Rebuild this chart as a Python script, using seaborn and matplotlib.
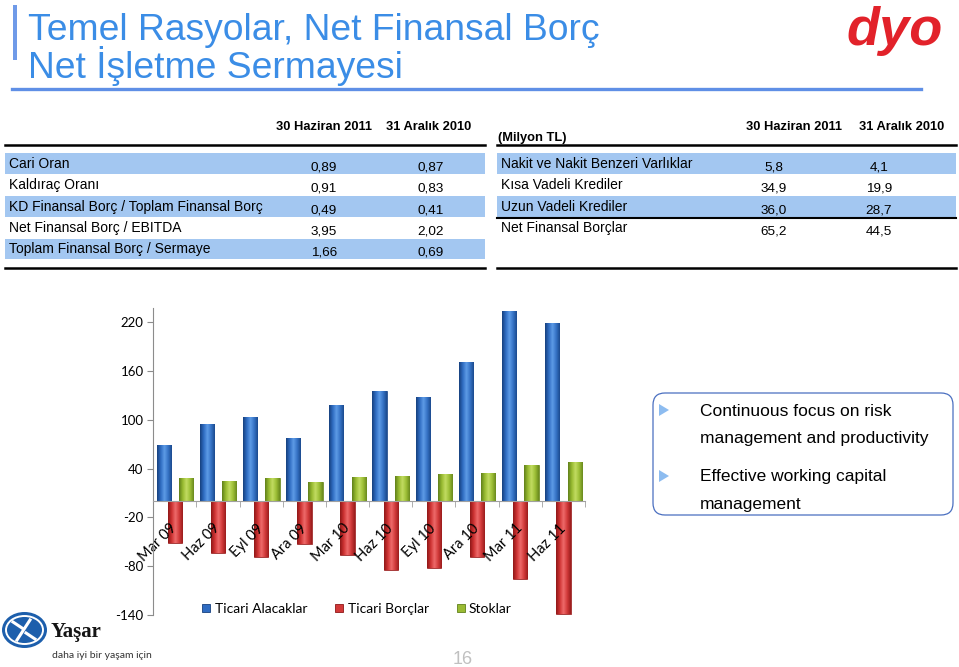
import numpy as np
import pandas as pd
import seaborn as sns
import matplotlib.pyplot as plt
from matplotlib.patches import Rectangle, FancyBboxPatch, Ellipse, Polygon
from matplotlib.lines import Line2D
from matplotlib.colors import LinearSegmentedColormap
from matplotlib.transforms import IdentityTransform

# chart data
periods = ['Mar 09', 'Haz 09', 'Eyl 09', 'Ara 09', 'Mar 10',
           'Haz 10', 'Eyl 10', 'Ara 10', 'Mar 11', 'Haz 11']
ticari_alacaklar = [69, 95, 103, 78, 118, 135, 128, 171, 233, 218]
ticari_borclar = [-51, -63, -69, -53, -66, -84, -82, -69, -96, -138]
stoklar = [28, 25, 28, 23, 30, 31, 33, 35, 44, 48]
series_names = ['Ticari Alacaklar', 'Ticari Borçlar', 'Stoklar']
yticks = [-140, -80, -20, 40, 100, 160, 220]

# tables
col_heads = ['30 Haziran 2011', '31 Aralık 2010']
ratio_labels = ['Cari Oran', 'Kaldıraç Oranı', 'KD Finansal Borç / Toplam Finansal Borç',
                'Net Finansal Borç / EBITDA', 'Toplam Finansal Borç / Sermaye']
ratio_jun11 = ['0,89', '0,91', '0,49', '3,95', '1,66']
ratio_dec10 = ['0,87', '0,83', '0,41', '2,02', '0,69']
debt_labels = ['Nakit ve Nakit Benzeri Varlıklar', 'Kısa Vadeli Krediler',
               'Uzun Vadeli Krediler', 'Net Finansal Borçlar']
debt_jun11 = ['5,8', '34,9', '36,0', '65,2']
debt_dec10 = ['4,1', '19,9', '28,7', '44,5']
bullets = ['Continuous focus on risk\nmanagement and productivity',
           'Effective working capital\nmanagement']

base_colors = ['#2f6cc2', '#d23838', '#9abb33']
shades = {
    'Ticari Alacaklar': ['#17407e', '#2f6cc2', '#5e9ce6', '#3673c6', '#1b4a8e'],
    'Ticari Borçlar': ['#8f1717', '#cf3333', '#ee6b6b', '#d23a3a', '#9a1c1c'],
    'Stoklar': ['#60801a', '#98ba30', '#c2dc62', '#9dbf36', '#6a8a1e'],
}
title_blue = '#3b8de6'
band = '#a3c7f1'

plt.rcParams['font.family'] = ['Liberation Sans', 'DejaVu Sans']
plt.rcParams['axes.unicode_minus'] = False

fig = plt.figure(figsize=(9.59, 6.67), dpi=100)
W, H = 959, 667
fx = lambda px: px / W
fy = lambda py: 1 - py / H
PIX = IdentityTransform()

# ---- title ----
fig.add_artist(Rectangle((13, H - 60), 4, 55, transform=PIX, color='#6f9ae8', lw=0))
fig.text(fx(28), fy(39.5), 'Temel Rasyolar, Net Finansal Borç', fontsize=26.8,
         color=title_blue, va='baseline')
fig.text(fx(28), fy(77.5), 'Net İşletme Sermayesi', fontsize=26.8,
         color=title_blue, va='baseline')
fig.add_artist(Line2D([fx(12), fx(921)], [fy(88.5), fy(88.5)], color='#5f8fe6', lw=2.4))
fig.text(fx(846), fy(45), 'dyo', fontsize=39, fontweight='bold', fontstyle='italic',
         color='#e2222a', va='baseline')

# ---- tables ----
row_top, row_h = 153.3, 21.4


def table(x0, x1, labels, v1, v2, cx1, cx2, shaded, head_x1, head_x2):
    fig.text(fx(head_x1), fy(127), col_heads[0], fontsize=9.3, fontweight='bold',
             ha='center', va='center')
    fig.text(fx(head_x2), fy(127), col_heads[1], fontsize=9.3, fontweight='bold',
             ha='center', va='center')
    fig.add_artist(Line2D([fx(x0), fx(x1)], [fy(145), fy(145)], color='black', lw=1.8))
    fig.add_artist(Line2D([fx(x0), fx(x1)], [fy(267.5), fy(267.5)], color='black', lw=1.8))
    for i, (lab, a, b) in enumerate(zip(labels, v1, v2)):
        top = row_top + i * row_h
        if i in shaded:
            fig.add_artist(Rectangle((x0, H - top - row_h + 1), x1 - x0, row_h - 1,
                                     transform=PIX, color=band, lw=0, zorder=0))
        fig.text(fx(x0 + 4), fy(top + 10.5), lab, fontsize=10, va='center')
        fig.text(fx(cx1), fy(top + 14), a, fontsize=9.7, ha='center', va='center')
        fig.text(fx(cx2), fy(top + 14), b, fontsize=9.7, ha='center', va='center')


table(5, 485, ratio_labels, ratio_jun11, ratio_dec10, 324, 431, [0, 2, 4], 323.5, 429)
table(497, 956, debt_labels, debt_jun11, debt_dec10, 774, 879, [0, 2], 793.7, 901.5)
fig.text(fx(498), fy(137.5), '(Milyon TL)', fontsize=9.3, fontweight='bold', va='center')
fig.add_artist(Line2D([fx(497), fx(956)], [fy(217.7), fy(217.7)], color='black', lw=1.5))

# ---- bar chart ----
df = pd.DataFrame({
    'period': periods * 3,
    'series': np.repeat(series_names, len(periods)),
    'value': ticari_alacaklar + ticari_borclar + stoklar,
})
ax = fig.add_axes([fx(153.3), 1 - 615.3 / H, (585 - 153.3) / W, (615.3 - 308) / H])
sns.barplot(data=df, x='period', y='value', hue='series', order=periods,
            hue_order=series_names, palette=base_colors, saturation=1,
            width=0.78, errorbar=None, legend=False, ax=ax)

bar_w = 0.33
grad = np.linspace(0, 1, 64).reshape(1, -1)
for cont, name in zip(ax.containers, series_names):
    cmap = LinearSegmentedColormap.from_list(name, shades[name])
    for bar in cont:
        x0 = bar.get_x() + bar.get_width() / 2 - bar_w / 2
        bar.set_x(x0)
        bar.set_width(bar_w)
        bar.set_edgecolor(shades[name][0])
        bar.set_linewidth(0.5)
        y0, h = bar.get_y(), bar.get_height()
        img = ax.imshow(grad, cmap=cmap, extent=[x0, x0 + bar_w, y0, y0 + h],
                        aspect='auto', zorder=1.1, interpolation='bilinear')
        img.set_clip_path(bar)

ax.set_xlim(-0.5, 9.5)
ax.set_ylim(-140, 237)
ax.set_xlabel('')
ax.set_ylabel('')
ax.set_facecolor('none')
for s in ['top', 'right']:
    ax.spines[s].set_visible(False)
ax.spines['bottom'].set_position(('data', 0))
ax.spines['left'].set_color('#8c8c8c')
ax.spines['bottom'].set_color('#a0a0a0')
ax.set_yticks(yticks)
ax.tick_params(axis='y', length=4, color='#8c8c8c', labelsize=9.5, pad=3)
ax.set_xticks(range(len(periods)))
ax.set_xticklabels(periods, rotation=45, ha='right', va='center', rotation_mode='anchor')
ax.tick_params(axis='x', which='major', length=0, pad=18, labelsize=10.5)
ax.set_xticks(np.arange(-0.5, len(periods), 1), minor=True)
ax.tick_params(axis='x', which='minor', length=4, color='#a0a0a0')
for lab in ax.get_xticklabels() + ax.get_yticklabels():
    lab.set_family('Lato')

handles = [Line2D([], [], marker='s', ls='', markersize=6, markerfacecolor=c,
                  markeredgecolor=shades[n][0], markeredgewidth=0.6)
           for c, n in zip(base_colors, series_names)]
fig.legend(handles, series_names, loc='center', bbox_to_anchor=(fx(357), fy(609)),
           ncol=3, frameon=False, prop={'family': 'Lato', 'size': 10},
           handletextpad=0.3, columnspacing=2.0, handlelength=0.6)

# ---- bullet box ----
fig.add_artist(FancyBboxPatch((653, H - 515), 300, 122, transform=PIX,
                              boxstyle='round,pad=0,rounding_size=12',
                              fc='white', ec='#4a6fc0', lw=0.9))
for ty, txt in zip([410, 476], bullets):
    fig.add_artist(Polygon([(659, H - ty - 6), (659, H - ty + 6), (669, H - ty)],
                           closed=True, transform=PIX, color='#8dbcf0', lw=0))
    fig.text(fx(700), fy(ty - 6.5), txt, fontsize=12.5, va='top', linespacing=2.0)

# ---- footer ----
fig.add_artist(Ellipse((24.5, H - 630), 45, 36, transform=PIX, fc='#1d5fac', ec='none'))
fig.add_artist(Ellipse((24.5, H - 630), 37, 28, transform=PIX, fc='none', ec='white', lw=1.4))
fig.add_artist(Line2D([17, 30], [H - 640, H - 620], transform=PIX, color='white', lw=2.2))
fig.add_artist(Line2D([13, 22], [H - 622, H - 628], transform=PIX, color='white', lw=2.2))
fig.add_artist(Line2D([26, 35], [H - 633, H - 639], transform=PIX, color='white', lw=2.2))
fig.text(fx(51), fy(637), 'Yaşar', fontsize=15, fontweight='bold',
         family=['Liberation Serif', 'DejaVu Serif'], color='#151515', va='baseline')
fig.text(fx(52), fy(655), 'daha iyi bir yaşam için', fontsize=7.5, family='Lato',
         color='#333333', va='center')
fig.text(fx(463), fy(659), '16', fontsize=13, color='#c0c0c0', ha='center', va='center')

fig.savefig('out.png', dpi=100, facecolor='white')
